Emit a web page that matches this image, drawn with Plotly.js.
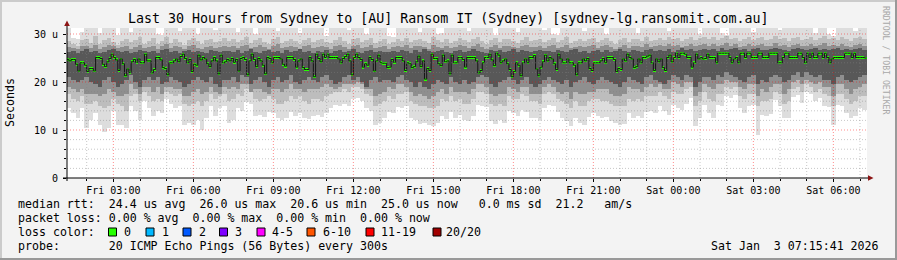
<!DOCTYPE html>
<html>
<head>
<meta charset="utf-8">
<script src="https://cdn.plot.ly/plotly-3.0.1.min.js"></script>
<style>
  html, body { margin: 0; padding: 0; background: #f3f3f3; }
  #chart { width: 897px; height: 260px; }
</style>
</head>
<body>
<div id="chart"></div>
<script>
// ---------------- DATA ----------------
const titleText = "Last 30 Hours from Sydney to [AU] Ransom IT (Sydney) [sydney-lg.ransomit.com.au]";
const startTime = Date.UTC(2026, 0, 2, 1, 15, 0);       // first 5-min step
const rangeStart = Date.UTC(2026, 0, 2, 1, 15, 41);
const rangeEnd = Date.UTC(2026, 0, 3, 7, 15, 41);
const medianStepMs = 300000;
const smokeStepMs = 600000;

// median RTT (microseconds) every 300 s
const median = [
  24.7,24.4,24.7,24.7,23.7,22.3,24.0,24.0,23.5,
  22.2,22.8,22.8,22.3,25.1,25.1,24.9,23.7,23.2,24.2,
  24.9,25.8,25.1,24.6,22.4,24.8,23.8,21.3,22.7,22.0,
  24.2,24.7,24.1,24.8,24.0,24.0,25.8,24.4,24.4,
  21.9,22.6,25.1,25.1,24.6,23.0,22.8,21.5,24.0,
  24.0,24.4,24.8,24.2,25.3,25.8,24.9,24.0,24.7,
  22.2,23.7,23.5,25.6,24.6,25.1,24.8,23.8,23.2,24.4,
  25.1,24.4,21.7,25.6,24.0,
  24.2,24.7,24.4,24.9,24.1,24.7,22.3,24.9,25.1,24.7,
  21.5,24.4,25.8,24.7,23.2,24.9,24.4,23.5,21.7,25.1,
  24.9,24.0,25.1,25.1,25.1,24.8,23.7,23.3,25.1,25.1,25.1,
  24.7,23.1,24.4,24.8,23.0,22.6,22.6,25.1,24.4,21.1,
  25.8,24.9,24.2,25.8,25.1,25.8,25.1,25.1,25.1,25.1,24.8,
  24.0,24.9,25.3,25.8,24.4,21.5,25.1,25.8,25.1,24.7,
  23.1,23.8,23.5,25.1,24.7,22.3,24.4,25.6,24.0,23.9,
  23.9,23.0,23.1,24.7,24.1,25.1,25.1,25.1,24.4,22.4,
  24.0,23.8,23.0,23.2,24.2,25.4,23.2,24.4,20.6,22.8,
  22.4,25.8,24.9,24.9,23.8,23.4,25.6,24.2,24.4,21.7,
  25.6,24.0,24.0,25.1,25.1,24.7,23.1,25.1,25.1,25.1,
  25.1,24.4,21.9,22.4,24.0,25.1,25.1,25.8,24.6,23.4,
  26.0,25.6,24.0,24.4,24.8,23.8,22.6,21.1,22.2,24.0,
  23.5,21.3,24.0,24.8,24.0,25.1,25.1,25.5,22.7,21.3,
  23.1,24.2,
  25.6,24.4,25.1,24.8,23.8,22.6,25.8,24.8,24.0,24.0,
  24.8,24.0,24.0,23.5,21.5,24.0,24.0,24.8,24.4,24.9,
  22.8,22.4,24.0,24.0,24.0,24.4,24.9,24.0,25.1,25.1,
  25.1,24.7,22.2,22.8,22.6,24.8,24.4,25.8,25.1,24.8,
  23.0,23.2,24.8,24.0,25.1,25.1,25.4,25.6,24.0,22.4,
  24.8,24.2,24.8,23.0,22.4,25.1,25.6,24.2,25.1,26.0,
  25.1,26.0,26.0,25.8,25.1,25.1,23.1,24.0,25.8,24.8,
  25.1,24.8,
  24.9,25.8,25.1,25.1,25.1,24.0,26.0,26.0,26.0,26.0,
  26.0,25.1,24.0,24.8,25.1,24.0,26.0,26.0,25.1,26.0,
  26.0,25.1,25.1,25.1,26.0,26.0,25.1,25.1,25.1,26.0,
  26.0,26.0,26.0,24.0,24.0,25.1,26.0,26.0,25.1,25.1,
  25.1,25.1,26.0,26.0,25.1,24.0,26.0,25.1,26.0,25.1,
  25.1,26.0,26.0,25.1,26.0,25.1,24.0,24.8,25.1,25.1,
  25.1,25.1,25.1,26.0,26.0,26.0,25.1,26.0,25.1,25.1,
  25.1,25.1,25.0
];

// smoke (ping spread) every 600 s
const smokeMin = [
  14.5,13.5,12.5,14.5,10.5,12.0,13.5,11.0,9.6,10.5,14.0,11.0,11.0,10.5,15.0,14.0,12.0,16.0,14.5,13.0,14.0,13.5,16.5,15.5,14.5,15.0,11.0,11.5,11.0,12.0,10.0,12.5,15.0,13.0,14.5,15.0,
  11.5,12.0,14.5,14.0,15.8,15.5,13.0,13.2,12.8,13.8,13.5,12.4,12.0,12.6,13.8,13.0,13.5,12.4,12.2,13.0,13.2,12.8,13.5,14.5,15.2,15.0,15.5,15.0,16.5,16.6,16.0,14.5,14.0,11.0,11.5,12.5,
  13.8,13.5,14.8,14.5,15.0,12.4,12.0,11.2,11.5,11.0,10.8,11.5,13.0,12.2,13.8,12.5,13.2,12.0,11.8,13.0,15.2,15.0,14.8,11.8,11.2,12.0,11.5,14.0,13.5,13.0,14.2,13.8,12.6,12.4,12.0,14.5,
  15.2,15.0,13.8,12.4,11.8,10.8,12.5,11.5,11.0,12.8,13.5,13.0,12.4,12.8,11.8,11.5,11.0,11.3,13.5,12.6,13.0,12.5,13.8,14.0,13.6,15.0,14.0,13.2,15.2,14.6,14.2,15.5,16.6,10.8,12.5,15.2,
  13.6,12.6,15.2,15.0,17.0,16.6,17.2,14.5,13.5,15.0,15.2,9.0,13.2,13.0,13.4,16.2,15.0,12.4,12.6,16.8,17.3,15.6,18.0,17.5,16.0,16.6,15.0,14.8,11.0,15.2,15.0,13.6,12.4,13.0,14.5,14.2
];
const smokeLo = [
  17.5,16.5,16.0,17.0,15.5,15.5,16.0,15.0,14.5,15.0,16.5,15.5,15.0,14.0,17.0,17.5,16.0,18.0,17.0,16.0,16.5,16.0,18.0,17.5,17.0,17.5,15.5,15.0,15.5,16.0,15.0,16.0,17.5,16.5,17.0,17.5,
  16.0,16.5,17.5,17.0,18.5,18.0,16.5,16.0,16.5,17.0,16.5,15.5,15.5,16.0,17.0,16.5,17.0,16.0,15.5,16.5,16.5,16.0,17.0,17.5,18.0,18.0,18.5,18.0,19.0,19.0,18.5,17.5,17.0,15.0,15.5,16.0,
  17.0,16.5,17.5,17.5,18.0,16.0,15.5,15.0,15.0,14.5,14.5,15.0,16.5,16.0,17.0,16.0,16.5,15.5,15.5,16.5,18.0,18.0,17.5,15.5,15.0,15.5,15.0,17.0,16.5,16.5,17.5,17.0,16.0,16.0,15.5,17.5,
  18.0,17.5,16.5,16.0,15.5,14.5,16.0,15.0,15.0,16.0,16.5,16.5,16.0,16.0,15.5,15.0,15.0,15.0,16.5,16.0,16.5,16.0,17.0,17.0,17.0,18.0,17.0,16.5,18.0,17.5,17.5,18.5,19.0,15.0,16.0,18.0,
  16.5,16.0,17.5,17.5,19.0,18.5,19.0,17.0,16.5,17.5,17.5,15.0,16.0,16.0,16.5,18.0,17.5,15.5,16.0,18.5,19.0,18.0,19.5,19.0,18.0,18.5,17.5,17.0,15.0,17.5,17.5,16.5,15.5,16.0,17.0,17.0
];
const midLow = [
  19.0,18.5,18.0,18.5,17.5,17.5,17.5,17.0,17.5,18.5,18.0,17.0,17.0,17.5,19.5,18.5,17.5,19.0,19.0,18.0,19.0,17.5,19.0,19.0,18.5,18.5,17.0,17.0,18.0,18.5,17.5,18.0,19.0,18.0,17.5,19.0,
  18.5,19.0,18.5,19.5,19.5,18.0,18.5,18.5,18.0,17.5,18.5,18.5,18.0,18.5,19.5,18.5,18.5,18.0,18.5,18.5,18.5,19.0,19.5,19.0,18.5,19.0,19.5,19.5,19.5,20.0,19.5,18.5,18.5,17.0,17.5,18.0,
  19.0,18.5,19.5,19.5,19.0,18.0,17.0,17.5,17.0,16.5,17.0,18.0,18.5,17.5,19.0,18.0,18.0,18.0,17.5,18.5,19.5,19.5,19.0,17.5,17.0,17.5,17.5,19.0,18.5,18.0,19.0,19.0,17.5,17.5,17.5,19.0,
  19.5,19.0,18.0,17.5,18.0,16.5,18.0,17.5,17.5,18.0,18.0,18.5,18.5,18.5,17.5,17.0,17.0,17.5,19.0,18.5,18.5,18.0,19.0,19.5,19.0,19.5,18.5,18.5,20.0,19.5,19.0,20.0,20.0,17.0,18.0,19.5,
  19.0,18.5,19.5,19.5,20.5,20.0,20.0,19.0,18.5,19.5,19.5,17.0,18.5,18.0,19.0,19.5,19.5,17.5,18.5,20.0,20.5,19.5,20.5,20.0,19.5,20.0,19.0,19.0,17.0,19.5,19.5,18.5,17.5,18.5,19.0,19.5
];
const coreLow = [
  21.0,20.5,20.0,20.5,21.0,20.0,19.5,19.0,20.5,21.0,20.0,19.0,19.5,20.5,21.5,20.0,19.0,20.5,21.0,20.5,21.0,19.5,20.0,21.0,20.5,20.0,19.0,19.5,20.5,21.0,20.5,20.0,21.0,19.5,19.0,20.5,
  20.5,21.0,20.0,21.5,21.0,19.5,20.5,21.0,20.0,19.0,20.5,21.0,20.0,20.5,21.5,20.0,19.5,20.5,21.0,20.5,20.0,21.0,21.5,20.5,19.5,20.0,21.0,21.5,20.5,21.0,20.0,19.0,20.5,21.0,20.0,20.5,
  20.5,20.0,21.0,21.5,20.5,20.0,19.0,20.0,19.0,18.5,19.5,20.5,20.0,19.5,21.0,20.0,19.5,20.5,19.5,20.0,21.0,21.5,21.0,19.5,19.0,20.0,20.5,21.0,20.5,19.5,20.5,21.0,19.5,19.0,19.5,20.5,
  21.0,20.5,20.0,19.5,20.5,19.0,20.0,20.5,21.0,20.0,19.5,20.5,21.0,20.5,20.0,19.5,19.0,20.0,21.0,20.5,20.0,19.5,21.0,21.5,20.5,20.0,19.5,20.5,21.5,21.0,20.5,21.5,21.0,19.0,20.0,21.0,
  21.0,20.5,21.5,21.0,22.0,21.5,21.0,20.5,20.0,21.0,21.5,19.5,20.5,20.0,21.0,21.5,21.0,20.0,20.5,21.5,22.0,21.0,22.0,21.5,21.0,21.5,20.5,20.5,19.5,21.0,21.5,20.5,20.0,20.5,21.0,21.5
];
const coreHigh = [
  26.3,26.5,26.0,26.4,26.8,26.2,26.5,26.0,26.3,26.6,26.9,26.4,26.2,26.5,26.0,26.3,26.7,26.5,26.2,26.4,26.0,26.6,26.8,26.3,26.5,26.1,26.4,26.7,26.2,26.5,26.3,26.0,26.6,26.4,26.2,26.5,
  26.4,26.2,26.6,26.0,26.5,26.8,26.3,26.1,26.5,26.7,26.2,26.4,26.0,26.6,26.3,26.5,26.8,26.2,26.4,26.0,26.5,26.3,26.7,26.1,26.4,26.6,26.2,26.5,26.8,26.3,26.0,26.4,26.6,26.2,26.5,26.3,
  26.2,26.5,26.3,26.7,26.4,26.1,26.6,26.3,26.8,26.5,26.2,26.4,26.7,26.3,26.0,26.5,26.6,26.2,26.4,26.8,26.5,26.3,26.1,26.6,26.4,26.7,26.2,26.5,26.9,26.3,26.6,26.4,26.2,26.5,26.7,26.4,
  26.5,26.3,26.7,26.4,26.2,26.6,26.8,26.3,26.5,26.1,26.4,26.7,26.3,26.6,26.2,26.5,26.8,26.4,26.2,26.6,26.5,26.3,26.7,26.9,26.4,26.6,26.5,26.8,26.3,26.7,27.0,26.6,26.8,26.5,26.7,26.9,
  26.6,26.8,26.5,27.0,26.7,26.9,27.1,26.6,26.8,26.5,26.9,27.0,26.7,26.6,26.8,27.1,26.9,26.7,26.5,26.8,27.0,26.9,26.6,26.8,27.1,26.7,26.9,26.6,26.8,27.0,26.7,26.9,26.6,26.8,27.0,26.7
];
const midHigh = [
  27.2,27.0,26.8,27.4,27.6,27.1,27.8,26.9,27.3,27.7,27.5,27.0,27.2,27.6,26.9,27.3,27.8,27.1,27.2,27.6,26.8,27.4,27.9,27.0,27.5,27.2,26.9,27.4,27.7,27.1,26.8,27.3,27.6,27.0,27.2,27.5,
  27.3,27.6,27.1,27.4,27.8,27.0,27.3,27.7,27.2,26.9,27.5,27.9,27.0,27.3,27.6,27.2,26.8,27.4,27.7,27.1,27.3,27.6,27.2,26.9,27.4,27.8,27.3,26.9,27.5,27.7,27.1,27.3,27.8,27.0,27.2,27.5,
  26.9,27.2,27.6,27.3,27.8,27.1,27.4,27.6,27.2,26.9,27.8,27.3,27.1,27.6,27.0,27.3,27.7,27.4,27.0,27.5,27.9,27.2,26.8,27.3,27.7,27.1,27.5,27.6,27.3,27.0,27.4,27.8,27.2,27.3,27.6,27.1,
  27.4,27.7,27.1,27.3,27.8,27.0,27.3,27.6,27.2,27.5,27.8,27.0,27.4,27.7,27.3,26.9,27.3,27.8,27.1,27.5,27.6,27.3,27.9,27.2,27.4,27.7,27.4,28.0,27.5,27.8,27.3,27.6,27.9,27.4,27.7,28.0,
  27.6,27.9,27.4,27.8,28.1,27.5,27.9,27.3,27.6,28.0,27.5,27.7,27.9,27.4,27.6,28.1,27.5,27.8,27.3,27.7,28.0,27.5,27.6,27.9,27.4,27.8,28.1,27.5,27.7,27.4,27.9,27.6,27.3,27.8,28.0,27.5
];
const smokeHi = [
  28.5,28.0,27.5,28.8,29.0,28.2,29.5,28.0,28.7,29.2,28.4,27.8,28.6,29.0,28.3,28.8,29.4,28.0,28.5,29.1,27.9,28.6,29.3,28.2,28.9,28.4,27.8,28.7,29.2,28.5,28.0,28.8,29.0,28.3,28.6,29.1,
  28.6,29.0,28.3,28.8,29.3,28.1,28.7,29.1,28.4,28.0,28.9,29.4,28.2,28.6,29.0,28.5,27.9,28.8,29.2,28.3,28.7,29.0,28.4,28.1,28.8,29.3,28.6,28.0,28.9,29.1,28.4,28.7,29.2,28.2,28.5,28.9,
  28.0,28.4,29.0,28.6,29.2,28.3,28.8,29.0,28.5,28.1,29.3,28.7,28.4,29.0,28.2,28.6,29.1,28.8,28.3,28.9,29.4,28.5,28.0,28.7,29.2,28.4,28.9,29.0,28.6,28.2,28.8,29.3,28.5,28.7,29.0,28.4,
  28.8,29.1,28.4,28.7,29.3,28.2,28.6,29.0,28.5,28.9,29.2,28.3,28.8,29.1,28.6,28.0,28.7,29.2,28.4,28.9,29.0,28.6,29.3,28.5,28.8,29.1,28.7,29.4,28.9,29.2,28.6,29.0,29.3,28.8,29.1,29.4,
  29.0,29.3,28.7,29.1,29.5,28.9,29.2,28.6,29.0,29.4,28.8,29.1,29.3,28.7,29.0,29.5,28.9,29.2,28.6,29.1,29.4,28.8,29.0,29.3,28.7,29.2,29.5,28.9,29.1,28.8,29.3,29.0,28.6,29.2,29.4,28.9
];
const smokeMax = [
  31.3,29.2,29.0,30.5,31.3,31.3,31.3,30.2,31.3,31.3,31.3,29.8,31.3,31.3,30.5,31.3,31.3,31.3,31.3,31.3,30.0,29.8,31.3,31.3,31.3,30.6,31.3,31.3,31.3,29.9,31.3,31.3,31.3,30.8,31.3,31.3,
  31.3,31.3,30.4,31.3,31.3,31.3,29.9,31.3,31.3,31.3,31.3,30.7,31.3,31.3,31.3,31.3,30.2,31.3,31.3,31.3,31.3,31.3,29.6,31.3,31.3,31.3,31.3,30.8,31.3,31.3,31.3,30.1,31.3,31.3,31.3,31.3,
  29.6,29.3,31.3,31.3,31.3,31.3,31.3,30.5,31.3,31.3,31.3,29.9,30.2,31.3,31.3,31.3,31.3,31.3,30.6,31.3,31.3,31.3,31.3,31.3,29.8,31.3,31.3,31.3,31.3,30.4,31.3,31.3,31.3,31.3,31.3,30.9,
  31.3,30.0,29.7,31.3,31.3,31.3,31.3,31.3,30.6,31.3,31.3,31.3,31.3,29.9,31.3,31.3,31.3,31.3,31.3,31.3,30.3,31.3,31.3,31.3,31.3,31.3,31.3,30.7,31.3,31.3,31.3,31.3,31.3,31.3,30.1,31.3,
  31.3,31.3,31.3,30.2,29.8,31.3,31.3,31.3,31.3,31.3,30.5,31.3,31.3,31.3,31.3,31.3,30.8,31.3,31.3,31.3,31.3,31.3,31.3,31.3,30.3,31.3,31.3,29.9,29.6,31.3,31.3,31.3,31.3,30.6,31.3,31.3
];

const yTickVals = [0, 10, 20, 30];
const yTickText = ["0", "10 u", "20 u", "30 u"];

const legendLines = [
  "median rtt:  24.4 us avg  26.0 us max  20.6 us min  25.0 us now   0.0 ms sd  21.2   am/s",
  "packet loss: 0.00 % avg  0.00 % max  0.00 % min  0.00 % now",
  "loss color:",
  "probe:       20 ICMP Echo Pings (56 Bytes) every 300s"
];
const lossLabels = ["0", "1", "2", "3", "4-5", "6-10", "11-19", "20/20"];
const lossColors = ["#26ff00", "#00b8ff", "#0059ff", "#7e00ff", "#ff00ff", "#ff5500", "#ff0000", "#a10000"];
const dateText = "Sat Jan  3 07:15:41 2026";
const sideText = "RRDTOOL / TOBI OETIKER";

// ---------------- GEOMETRY HELPERS ----------------
const W = 897, H = 260, L = 67, R = 867, T = 28, B = 178;
const px = x => (x - L) / (R - L);
const py = y => (B - y) / (B - T);
const nb = s => s.replace(/ /g, "\u00a0");
const mono = "DejaVu Sans Mono, monospace";

const medX = median.map((_, i) => startTime + i * medianStepMs);
const smokeX = smokeMin.map((_, i) => startTime + i * smokeStepMs);

function band(lo, hi, color) {
  return {
    type: "bar", x: smokeX, base: lo, y: hi.map((v, i) => v - lo[i]),
    width: smokeStepMs, offset: 0, marker: { color: color, line: { width: 0 } },
    hoverinfo: "skip", showlegend: false
  };
}

const traces = [
  band(smokeMin, smokeMax, "#dddddd"),
  band(smokeLo, smokeHi, "#bdbdbd"),
  band(midLow, midHigh, "#8f8f8f"),
  band(coreLow, coreHigh, "#585858"),
  {
    type: "scatter", mode: "lines", x: medX.concat([medX[medX.length - 1] + medianStepMs]),
    y: median.concat([median[median.length - 1]]),
    line: { shape: "hv", color: "#151515", width: 1 }, hoverinfo: "skip", showlegend: false
  },
  {
    type: "bar", x: medX, base: median.map(v => v - 0.3), y: median.map(() => 0.6),
    width: medianStepMs, offset: 0, marker: { color: lossColors[0], line: { width: 0 } },
    hoverinfo: "skip", showlegend: false
  }
];

// grid shapes (dotted, drawn over the smoke like rrdtool)
const shapes = [];
const gridDash = "1px,2px";
const redGrid = "rgba(255,0,0,0.45)";
const greyGrid = "rgba(130,130,130,0.45)";
for (let t = Date.UTC(2026, 0, 2, 2, 0, 0); t < rangeEnd; t += 3600000) {
  const h = new Date(t).getUTCHours();
  shapes.push({ type: "line", layer: "above", xref: "x", yref: "paper", x0: t, x1: t, y0: 0, y1: 1,
    line: { color: h % 3 === 0 ? redGrid : greyGrid, width: 1, dash: gridDash } });
}
for (let v = 2; v <= 30; v += 2) {
  shapes.push({ type: "line", layer: "above", xref: "paper", yref: "y", x0: 0, x1: 1, y0: v, y1: v,
    line: { color: v % 10 === 0 ? redGrid : greyGrid, width: 1, dash: gridDash } });
}
// axes lines + arrows
shapes.push({ type: "line", layer: "above", xref: "paper", yref: "paper", x0: px(63), x1: px(869), y0: 0, y1: 0, line: { color: "#000", width: 1 } });
shapes.push({ type: "line", layer: "above", xref: "paper", yref: "paper", x0: 0, x1: 0, y0: py(181), y1: py(24), line: { color: "#000", width: 1 } });
shapes.push({ type: "path", layer: "above", xref: "paper", yref: "paper",
  path: `M ${px(67)},${py(20.5)} L ${px(64.2)},${py(26)} L ${px(69.8)},${py(26)} Z`,
  fillcolor: "#8c1414", line: { width: 0 } });
shapes.push({ type: "path", layer: "above", xref: "paper", yref: "paper",
  path: `M ${px(873.5)},${py(178)} L ${px(868)},${py(175.2)} L ${px(868)},${py(180.8)} Z`,
  fillcolor: "#8c1414", line: { width: 0 } });
// frame shading
shapes.push({ type: "line", layer: "above", xref: "paper", yref: "paper", x0: px(0), x1: px(897), y0: py(1), y1: py(1), line: { color: "#cbcbcb", width: 2 } });
shapes.push({ type: "line", layer: "above", xref: "paper", yref: "paper", x0: px(1), x1: px(1), y0: py(0), y1: py(260), line: { color: "#cbcbcb", width: 2 } });
shapes.push({ type: "line", layer: "above", xref: "paper", yref: "paper", x0: px(0), x1: px(897), y0: py(259), y1: py(259), line: { color: "#999999", width: 2 } });
shapes.push({ type: "line", layer: "above", xref: "paper", yref: "paper", x0: px(896), x1: px(896), y0: py(0), y1: py(260), line: { color: "#999999", width: 2 } });

// loss color boxes
const boxX = [108.5, 146, 183, 219.5, 257, 307, 366, 433];
boxX.forEach((x, i) => {
  shapes.push({ type: "rect", layer: "above", xref: "paper", yref: "paper",
    x0: px(x), x1: px(x + 8), y0: py(236), y1: py(228),
    fillcolor: lossColors[i], line: { color: "#000", width: 1 } });
});

// text annotations
const ann = [];
const txt = (text, x, y, size, opts) => Object.assign({
  text: nb(text), xref: "paper", yref: "paper", x: px(x), y: py(y), showarrow: false,
  xanchor: "left", yanchor: "middle", font: { family: mono, size: size, color: "#000" }
}, opts || {});
ann.push(txt(titleText, 448, 19, 13.3, { xanchor: "center" }));
ann.push(txt("Seconds", 10, 103, 11.6, { xanchor: "center", textangle: -90 }));
ann.push(txt(sideText, 886, 60, 8.2, { xanchor: "center", textangle: 90, font: { family: mono, size: 8.2, color: "#a8a8a8" } }));
const lineY = [204, 218, 232, 246];
legendLines.forEach((s, i) => ann.push(txt(s, 16, lineY[i], 11.6)));
const lossLabelX = [122, 159.5, 196.5, 233, 270, 321, 379, 444];
lossLabels.forEach((s, i) => ann.push(txt(s, lossLabelX[i], 232, 11.6)));
ann.push(txt(dateText, 881, 246, 11.6, { xanchor: "right" }));

const layout = {
  width: W, height: H,
  margin: { l: L, r: W - R, t: T, b: H - B, pad: 0 },
  paper_bgcolor: "#f3f3f3", plot_bgcolor: "#ffffff",
  barmode: "overlay", bargap: 0, showlegend: false, hovermode: false,
  xaxis: {
    type: "date", range: [rangeStart, rangeEnd], automargin: false,
    tick0: Date.UTC(2026, 0, 2, 3, 0, 0), dtick: 10800000, tickformat: "%a %H:%M",
    ticks: "outside", ticklen: 3, tickcolor: "#000", showgrid: false, zeroline: false, showline: false,
    tickfont: { family: mono, size: 10, color: "#000" },
    minor: { dtick: 3600000, tick0: Date.UTC(2026, 0, 2, 3, 0, 0), ticks: "outside", ticklen: 2, tickcolor: "#000", showgrid: false }
  },
  yaxis: {
    range: [0, 31.25], automargin: false, tickvals: yTickVals, ticktext: yTickText,
    ticks: "outside", ticklen: 3, tickcolor: "#000", showgrid: false, zeroline: false, showline: false,
    ticklabelstandoff: 3,
    tickfont: { family: mono, size: 10, color: "#000" },
    minor: { dtick: 2, ticks: "outside", ticklen: 2, tickcolor: "#000", showgrid: false }
  },
  shapes: shapes,
  annotations: ann
};

Plotly.newPlot("chart", traces, layout, { staticPlot: true, displayModeBar: false });
</script>
</body>
</html>
